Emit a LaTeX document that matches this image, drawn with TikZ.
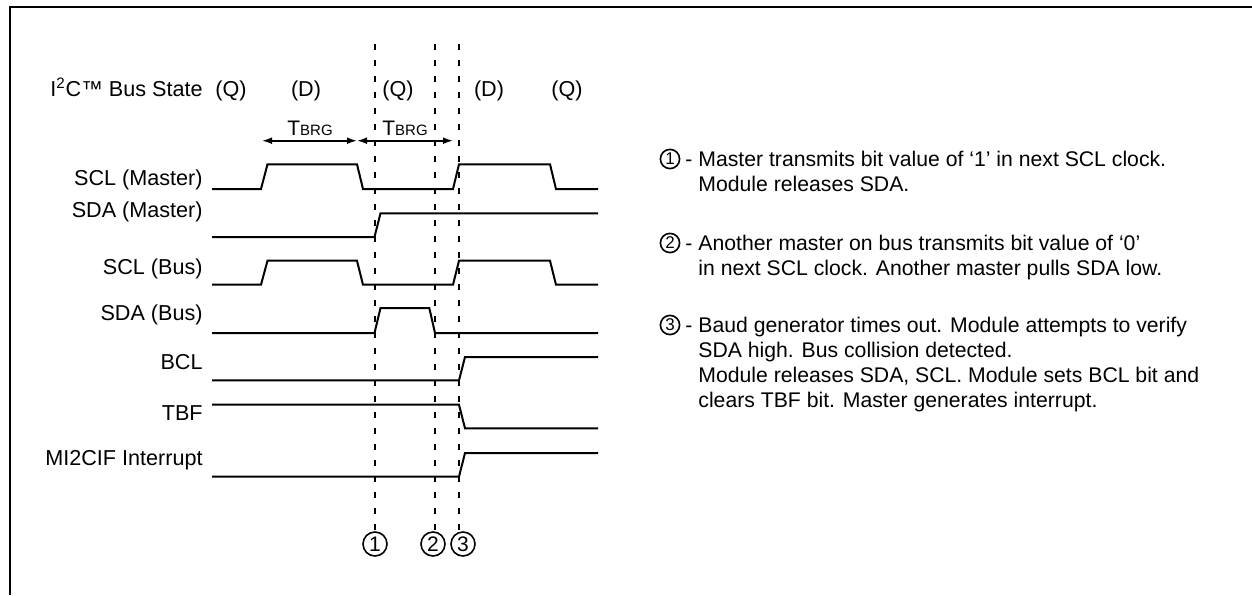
\documentclass[tikz,border=0pt]{standalone}
\usepackage{fontspec}
\setmainfont{Liberation Sans}
\usetikzlibrary{arrows.meta, positioning, calc}

\begin{document}
\begin{tikzpicture}[
      x=0.5pt, y=-0.5pt,
      sig/.style={line width=1pt, line join=miter},
      guide/.style={line width=1pt, dash pattern=on 3pt off 5pt},
      lbl/.style={anchor=base east, inner sep=0pt, font=\fontsize{10.8pt}{13pt}\selectfont},
      st/.style={anchor=base, inner sep=0pt, font=\fontsize{10.8pt}{13pt}\selectfont},
      numc/.style={circle, draw, line width=0.8pt, inner sep=0pt, minimum size=12pt,
                   font=\fontsize{10.5pt}{12pt}\selectfont},
      legc/.style={circle, draw, line width=0.8pt, inner sep=0pt, minimum size=9.6pt,
                   font=\fontsize{8.5pt}{10pt}\selectfont},
      legt/.style={anchor=north west, align=left, inner sep=0pt,
                   font=\fontsize{10.6pt}{12.5pt}\selectfont},
      tarr/.style={{Latex[length=5pt,width=3.4pt]}-{Latex[length=5pt,width=3.4pt]}, line width=0.8pt}
    ]
    \useasboundingbox (0,0) rectangle (1252,595);
    \draw[line width=1pt] (10,595) -- (10,6.7) -- (1252,6.7);

    \node[lbl] (bs) at (203,96.7) {I\textsuperscript{2}C™ Bus State};
    \node[st] (q1) at (231,96.7) {(Q)};
    \node[st] (d1) at (306,96.7) {(D)};
    \node[st] (q2) at (398,96.7) {(Q)};
    \node[st] (d2) at (489,96.7) {(D)};
    \node[st] (q3) at (567,96.7) {(Q)};

    \coordinate (a0) at (262,140.7);
    \coordinate (a1) at (357,140.7);
    \coordinate (a2) at (453,140.7);
    \draw[tarr] (a0) -- (a1);
    \draw[tarr] (a1) -- (a2);
    \node[st, font=\fontsize{10.5pt}{12pt}\selectfont] (t1) at (310,135) {T{\fontsize{7.5pt}{8pt}\selectfont BRG}};
    \node[st, font=\fontsize{10.5pt}{12pt}\selectfont] (t2) at (405,135) {T{\fontsize{7.5pt}{8pt}\selectfont BRG}};

    \node[lbl] (sclm) at (203,185) {SCL (Master)};
    \node[lbl] (sdam) at (203,217.3) {SDA (Master)};
    \node[lbl] (sclb) at (203,274) {SCL (Bus)};
    \node[lbl] (sdab) at (203,320.7) {SDA (Bus)};
    \node[lbl] (bcl) at (203,369) {BCL};
    \node[lbl] (tbf) at (203,420) {TBF};
    \node[lbl] (irq) at (203,465) {MI2CIF Interrupt};

    \draw[sig] (212,189) -- (261,189) -- (267.5,164.3) -- (357,164.3) -- (363,189) -- (453,189)
               -- (459,164.3) -- (550,164.3) -- (556,189) -- (598,189);
    \draw[sig] (212,237) -- (374.5,237) -- (380.5,213.3) -- (598,213.3);
    \draw[sig] (212,284.7) -- (261,284.7) -- (267.5,260.7) -- (357,260.7) -- (363,284.7) -- (453,284.7)
               -- (459,260.7) -- (550,260.7) -- (556,284.7) -- (598,284.7);
    \draw[sig] (212,333) -- (374.5,333) -- (380.5,308) -- (429.3,308) -- (435,333) -- (598,333);
    \draw[sig] (212,380.3) -- (459,380.3) -- (465,357) -- (598,357);
    \draw[sig] (212,404.7) -- (459,404.7) -- (465,428.3) -- (598,428.3);
    \draw[sig] (212,476.7) -- (459,476.7) -- (465,453) -- (598,453);

    \node[numc] (m1) at (375,544) {1};
    \node[numc] (m2) at (433,544) {2};
    \node[numc] (m3) at (463,544) {3};
    \coordinate (g1) at (374.5,44);
    \coordinate (g2) at (435,44);
    \coordinate (g3) at (459,44);
    \draw[guide] (g1) -- (g1 |- m1.north);
    \draw[guide] (g2) -- (g2 |- m2.north);
    \draw[guide] (g3) -- ($(g3 |- m3.north)+(0,1.5)$);

    \node[legc] (k1) at (670,159) {1};
    \node[legt] (e1) at (698,151) {\llap{- }Master transmits bit value of ‘1’ in next SCL clock.\\
      Module releases SDA.};
    \node[legc] (k2) at (670,243) {2};
    \node[legt] (e2) at (698,235) {\llap{- }Another master on bus transmits bit value of ‘0’\\
      in next SCL clock. Another master pulls SDA low.};
    \node[legc] (k3) at (670,325) {3};
    \node[legt] (e3) at (698,317) {\llap{- }Baud generator times out. Module attempts to verify\\
      SDA high. Bus collision detected.\\
      Module releases SDA, SCL. Module sets BCL bit and\\
      clears TBF bit. Master generates interrupt.};
  \end{tikzpicture}
\end{document}
